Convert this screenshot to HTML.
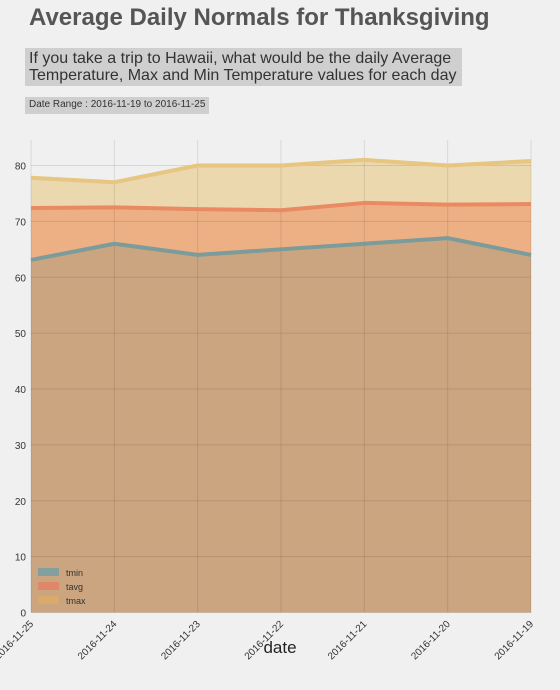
<!DOCTYPE html>
<html><head><meta charset="utf-8"><style>
body{margin:0;background:#f0f0f0;font-family:"Liberation Sans",sans-serif;}
#wrap{position:relative;width:560px;height:690px;overflow:hidden;}
.t{position:absolute;white-space:nowrap;}
</style></head><body><div id="wrap">
<div class="t" style="left:29px;top:4px;font-size:24px;font-weight:bold;color:#555;">Average Daily Normals for Thanksgiving</div>
<div class="t" style="left:25px;top:48px;width:437px;height:38px;background:#cfcfcf;font-size:16px;line-height:17px;color:#333;padding:2px 0 0 4px;box-sizing:border-box;white-space:normal;">If you take a trip to Hawaii, what would be the daily Average Temperature, Max and Min Temperature values for each day</div>
<div class="t" style="left:25px;top:97px;height:17px;padding:0 4px;background:#cfcfcf;font-size:10px;line-height:16px;color:#333;">Date Range : 2016-11-19 to 2016-11-25</div>
<svg id="svg" width="560" height="690" style="position:absolute;left:0;top:0"></svg>
</div>
<script>
const dates=["2016-11-25","2016-11-24","2016-11-23","2016-11-22","2016-11-21","2016-11-20","2016-11-19"];
const tmin=[63.1,66,64,65,66,67,64];
const tavg=[72.4,72.5,72.2,72.0,73.3,73.0,73.1];
const tmax=[77.8,77.0,80,80,81,80,80.8];
const yTicks=[0,10,20,30,40,50,60,70,80];
const NS="http://www.w3.org/2000/svg";
const svg=document.getElementById('svg');
const L=31,R=531,Y0=612.5,PT=140,k=5.5875;
const x=i=>L+i*(R-L)/(dates.length-1);
const y=v=>Y0-v*k;
function mk(t,a){const e=document.createElementNS(NS,t);for(const n in a)e.setAttribute(n,a[n]);svg.appendChild(e);return e;}
const bg=mk('rect',{x:L,y:PT,width:R-L,height:Y0-PT,fill:'#f0f0f0'});


const series=[["tmax",tmax],["tavg",tavg],["tmin",tmin]];
const fills={tmax:"#ecd8ae",tavg:"#ecb084",tmin:"#cba580"};
const lines={tmax:"#e6c680",tavg:"#ea8a62",tmin:"#7b9c9a"};
series.forEach(([nm,d])=>{
  let p=`M${x(0)},${Y0}`;d.forEach((v,i)=>p+=`L${x(i)},${y(v)}`);p+=`L${x(d.length-1)},${Y0}Z`;
  const a=mk('path',{d:p,fill:fills[nm]});
  
  
});
yTicks.forEach(v=>{
  const g=mk('line',{x1:L,x2:R,y1:y(v),y2:y(v),stroke:'rgba(0,0,0,0.1)','stroke-width':1});
  
  
  const t=mk('text',{x:L-5,y:y(v)+4,'text-anchor':'end','font-size':10,fill:'#333','font-family':'Liberation Sans'});
  t.textContent=v;
  
  
});
dates.forEach((d,i)=>{
  const g=mk('line',{x1:x(i),x2:x(i),y1:PT,y2:Y0,stroke:'rgba(0,0,0,0.1)','stroke-width':1});
  
  
  const t=mk('text',{x:x(i)+3,y:Y0+12,'text-anchor':'end','font-size':10,fill:'#333','font-family':'Liberation Sans',transform:`rotate(-45 ${x(i)+3} ${Y0+12})`});
  t.textContent=d;
  
  
});
series.forEach(([nm,d])=>{
  const pts=d.map((v,i)=>`${x(i)},${y(v)}`).join(' ');
  const l=mk('polyline',{points:pts,fill:'none',stroke:lines[nm],'stroke-width':4,'stroke-linejoin':'round'});
  
  
});
const xt=mk('text',{x:280,y:653,'text-anchor':'middle','font-size':17,fill:'#222','font-family':'Liberation Sans'});
xt.textContent='date';


[["tmin","#84a09e"],["tavg","#e0876a"],["tmax","#d9aa6b"]].forEach(([nm,c],i)=>{
  const r=mk('rect',{x:38,y:568+i*14,width:21,height:8,fill:c});
  
  
  const t=mk('text',{x:66,y:576+i*14,'font-size':9,fill:'#333','font-family':'Liberation Sans'});
  t.textContent=nm;
  
  
});
</script></body></html>
